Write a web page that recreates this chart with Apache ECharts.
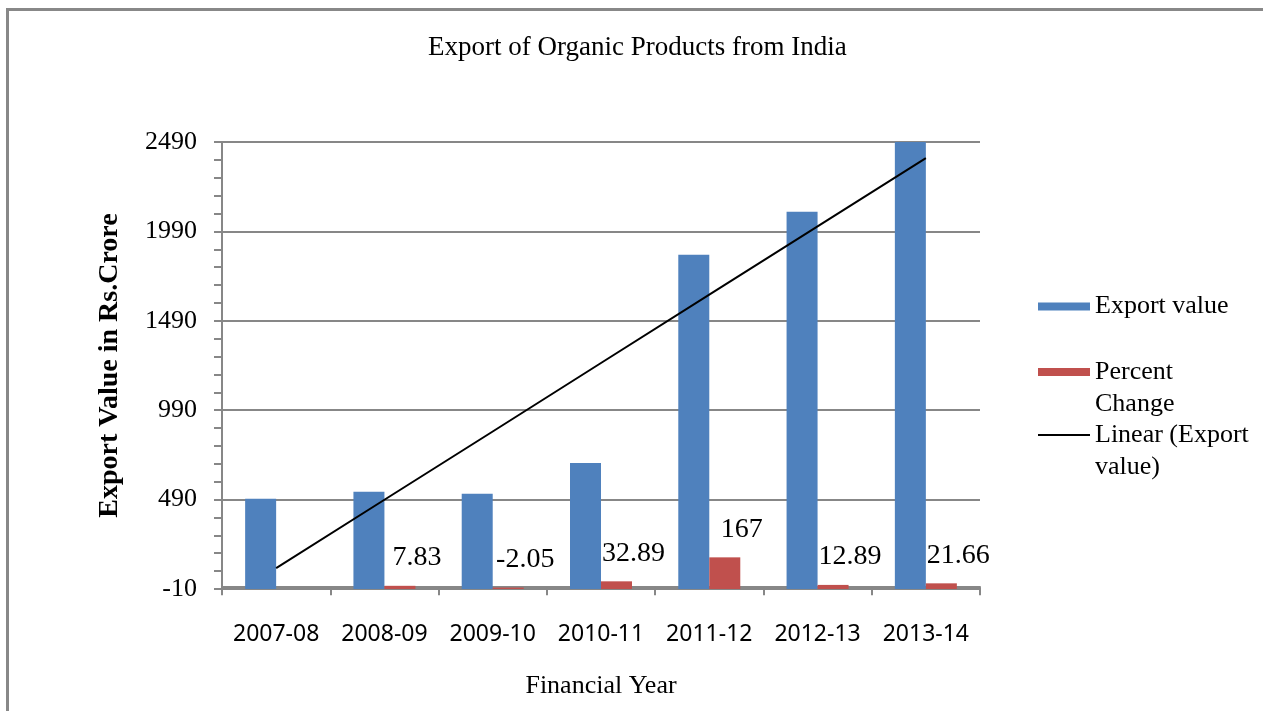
<!DOCTYPE html>
<html>
<head>
<meta charset="utf-8">
<script src="https://cdn.jsdelivr.net/npm/echarts@6/dist/echarts.min.js"></script>
<style>
html,body{margin:0;padding:0;background:#fff;}
#chart{width:1263px;height:711px;}
</style>
</head>
<body>
<div id="chart"></div>
<script>
const categories = ['2007-08','2008-09','2009-10','2010-11','2011-12','2012-13','2013-14'];
const exportValues = [495, 534, 523, 695, 1860, 2100, 2555];
const percentChange = [null, 7.83, -2.05, 32.89, 167, 12.89, 21.66];
const trendValues = [107, 489, 871, 1254, 1636, 2018, 2400];
const yMin = -10, yMax = 2490, yInterval = 500;

const serif = "'Liberation Serif', 'Times New Roman', serif";
const sans = "'Noto Sans', 'Open Sans', sans-serif";
const gray = '#878787';

const chart = echarts.init(document.getElementById('chart'), null, {renderer: 'canvas'});

const legendLabels = {
  'Export value': 'Export value',
  'Percent Change': '\nPercent\nChange',
  'Linear (Export value)': '\nLinear (Export\nvalue)'
};

function legendBox(name, top, extra) {
  return Object.assign({
    orient: 'vertical',
    left: 1038,
    top: top,
    padding: 0,
    itemWidth: 52,
    itemHeight: 8,
    icon: 'rect',
    selectedMode: false,
    data: [name],
    formatter: function (n) { return legendLabels[n]; },
    textStyle: {fontFamily: serif, fontSize: 26, color: '#000', lineHeight: 32}
  }, extra || {});
}

chart.setOption({
  animation: false,
  graphic: [{
    type: 'rect', left: 5, top: 7, silent: true,
    shape: {x: 0, y: 0, width: 1400, height: 900},
    style: {fill: 'none', stroke: '#888', lineWidth: 3}
  }],
  title: {
    text: 'Export of Organic Products from India',
    left: 428, top: 34,
    padding: 0,
    textStyle: {fontFamily: serif, fontSize: 27, fontWeight: 'normal', color: '#000'}
  },
  legend: [
    legendBox('Export value', 290.5),
    legendBox('Percent Change', 324),
    legendBox('Linear (Export value)', 387, {
      icon: 'path://M0,0 L52,0 L52,2 L0,2 Z',
      itemHeight: 2,
      itemStyle: {color: '#000', borderWidth: 0}
    })
  ],
  grid: {left: 222, right: 283, top: 142, bottom: 122, containLabel: false},
  xAxis: {
    type: 'category',
    data: categories,
    name: 'Financial Year',
    nameLocation: 'middle',
    nameGap: 84,
    nameTextStyle: {fontFamily: serif, fontSize: 26, color: '#000'},
    axisLine: {lineStyle: {color: gray, width: 2}},
    axisTick: {show: true, length: 8, lineStyle: {color: gray, width: 2}},
    axisLabel: {fontFamily: sans, fontSize: 23, color: '#000', margin: 34, interval: 0},
    splitLine: {show: false}
  },
  yAxis: {
    type: 'value',
    min: yMin, max: yMax, interval: yInterval,
    startValue: yMin,
    name: 'Export Value in Rs.Crore',
    nameLocation: 'middle',
    nameGap: 98,
    nameTextStyle: {fontFamily: serif, fontSize: 28, fontWeight: 'bold', color: '#000'},
    axisLine: {show: true, lineStyle: {color: gray, width: 2}},
    axisTick: {show: true, length: 8, lineStyle: {color: gray, width: 2}},
    minorTick: {show: true, splitNumber: 5, length: 8, lineStyle: {color: gray, width: 2}},
    axisLabel: {
      fontFamily: serif, fontSize: 26, color: '#000', margin: 25,
      formatter: function (v) { return String(v); }
    },
    splitLine: {show: true, lineStyle: {color: gray, width: 2}}
  },
  series: [
    {
      name: 'Export value',
      type: 'bar',
      data: exportValues,
      barWidth: 31,
      barGap: '0%',
      itemStyle: {color: '#4F81BD'}
    },
    {
      name: 'Percent Change',
      type: 'bar',
      data: percentChange,
      barWidth: 31,
      barGap: '0%',
      itemStyle: {color: '#C0504D'},
      label: {
        show: true, position: 'top', distance: 14, offset: [17, 0],
        fontFamily: serif, fontSize: 28, color: '#000',
        formatter: function (p) { return p.value == null ? '' : String(p.value); }
      }
    },
    {
      name: 'Linear (Export value)',
      type: 'line',
      data: trendValues,
      symbol: 'none',
      lineStyle: {color: '#000', width: 2},
      itemStyle: {color: '#000'},
      z: 5
    }
  ]
});
</script>
</body>
</html>
